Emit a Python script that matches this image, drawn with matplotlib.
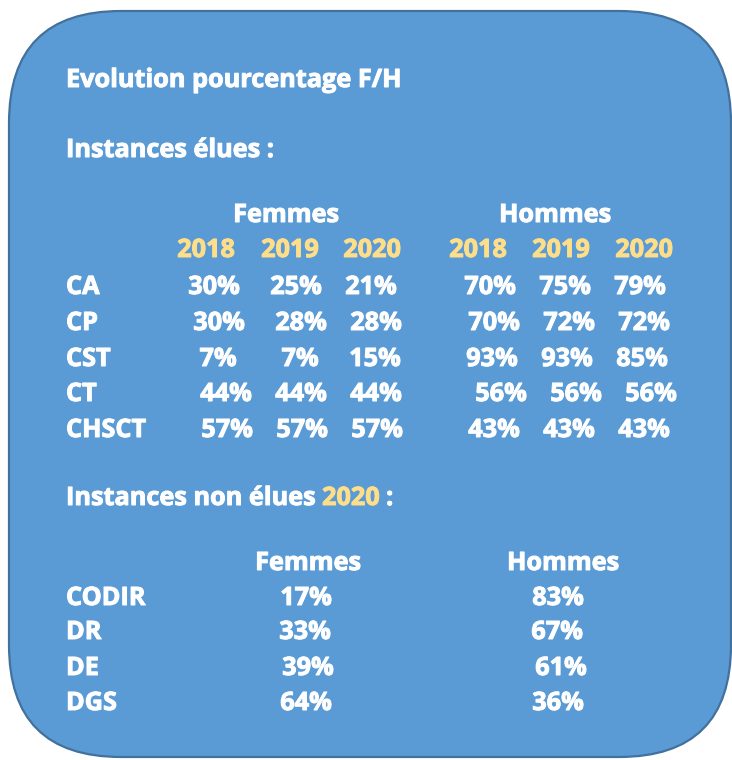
import matplotlib
matplotlib.use("Agg")
import matplotlib.pyplot as plt
import matplotlib.patheffects as pe
from matplotlib.patches import FancyBboxPatch

# data
years = ['2018', '2019', '2020']
elues_labels = ['CA', 'CP', 'CST', 'CT', 'CHSCT']
femmes_elues = [[30, 25, 21], [30, 28, 28], [7, 7, 15], [44, 44, 44], [57, 57, 57]]
hommes_elues = [[70, 75, 79], [70, 72, 72], [93, 93, 85], [56, 56, 56], [43, 43, 43]]
non_elues_labels = ['CODIR', 'DR', 'DE', 'DGS']
femmes_2020 = [17, 33, 39, 64]
hommes_2020 = [83, 67, 61, 36]

# layout (pixel positions, y from top)
FILL = '#5B9BD5'
EDGE = '#41719C'
GOLD = '#FFDE8A'
FONT = 'Open Sans'
FS = 18.2

year_x = [206, 290, 372, 478, 561, 644]
row_x = [[214, 296, 371, 490, 565, 640],
         [219, 301, 376, 494, 569, 644],
         [218, 300, 375, 492, 567, 642],
         [226, 301, 376, 501, 576, 651],
         [227, 302, 377, 494, 569, 644]]
row_y = [294, 330, 366, 401, 437]
low_y = [605, 639, 675, 710]
low_fx = [306, 305, 308, 306]
low_hx = [558, 557, 561, 558]

fig = plt.figure(figsize=(7.32, 7.60), dpi=100)
ax = fig.add_axes([0, 0, 1, 1])
ax.set_xlim(0, 732)
ax.set_ylim(760, 0)
ax.axis('off')

box = FancyBboxPatch((9, 11), 722, 746, boxstyle='round,pad=0,rounding_size=112',
                     facecolor=FILL, edgecolor=EDGE, linewidth=1.6)
ax.add_patch(box)


def txt(x, y, s, color='white', ha='left'):
    # slight stroke to get closer to the heavy original weight
    return ax.text(x, y, s, color=color, ha=ha, va='baseline',
                   fontsize=FS, fontweight='bold', family=FONT,
                   path_effects=[pe.withStroke(linewidth=0.7, foreground=color)])


txt(66, 87, 'Evolution pourcentage F/H')
txt(66, 157, 'Instances élues :')
txt(286, 222, 'Femmes', ha='center')
txt(555, 222, 'Hommes', ha='center')
for i, yr in enumerate(years * 2):
    txt(year_x[i], 257, yr, color=GOLD, ha='center')

for r, lab in enumerate(elues_labels):
    txt(66, row_y[r], lab)
    vals = femmes_elues[r] + hommes_elues[r]
    for c, v in enumerate(vals):
        txt(row_x[r][c], row_y[r], f'{v}%', ha='center')

# mixed colour heading
renderer = fig.canvas.get_renderer()
t1 = txt(66, 505, 'Instances non élues ')
x1 = t1.get_window_extent(renderer).x1
t2 = txt(x1, 505, '2020', color=GOLD)
x2 = t2.get_window_extent(renderer).x1
txt(x2, 505, ' :')

txt(308, 570, 'Femmes', ha='center')
txt(563, 570, 'Hommes', ha='center')
for r, lab in enumerate(non_elues_labels):
    txt(66, low_y[r], lab)
    txt(low_fx[r], low_y[r], f'{femmes_2020[r]}%', ha='center')
    txt(low_hx[r], low_y[r], f'{hommes_2020[r]}%', ha='center')

fig.savefig('out.png', dpi=100)
